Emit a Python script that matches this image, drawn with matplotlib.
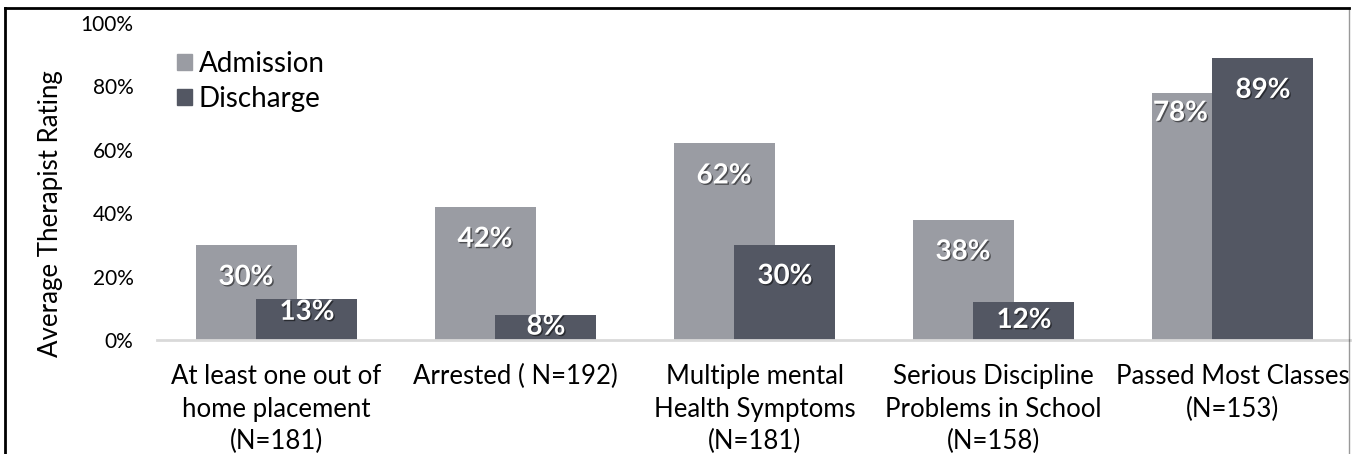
import numpy as np
import matplotlib.pyplot as plt
import matplotlib.patheffects as pe
from matplotlib.lines import Line2D
from matplotlib.patches import Patch

plt.rcParams['font.family'] = ['Lato', 'DejaVu Sans']

categories = [
    "At least one out of\nhome placement\n(N=181)",
    "Arrested ( N=192)",
    "Multiple mental\nHealth Symptoms\n(N=181)",
    "Serious Discipline\nProblems in School\n(N=158)",
    "Passed Most Classes\n(N=153)",
]
admission = [30, 42, 62, 38, 78]
discharge = [13, 8, 30, 12, 89]

adm_color = "#9a9ca3"
dis_color = "#535763"

W, H = 1352, 454
fig = plt.figure(figsize=(W / 100, H / 100), dpi=100)
ax = fig.add_axes([157 / W, (H - 340) / H, (W - 157) / W, (340 - 23) / H])

x = np.arange(len(categories))
bw = 0.4226
shift = 0.1276

ax.bar(x - shift, admission, bw, color=adm_color, zorder=2)
ax.bar(x + shift, discharge, bw, color=dis_color, zorder=3)

ax.set_xlim(-0.5, len(categories) - 0.5)
ax.set_ylim(0, 100)
ax.set_yticks(range(0, 101, 20))
ax.set_yticklabels([f"{v}%" for v in range(0, 101, 20)], fontsize=15)
ax.set_xticks(x)
ax.set_xticklabels(categories, fontsize=18.5, va="top", linespacing=1.36)
ax.tick_params(axis="y", length=0, pad=17)
ax.tick_params(axis="x", length=0, pad=17.5)
for side in ["top", "right", "left"]:
    ax.spines[side].set_visible(False)
ax.spines["bottom"].set_color("#d9d9d9")
ax.spines["bottom"].set_linewidth(2)
ax.spines["bottom"].set_zorder(4)

ax.set_ylabel("Average Therapist Rating", fontsize=18.6)
ax.yaxis.set_label_coords(-0.0787, 0.40)

# data labels, a few dragged closer to the top of short bars
shadow = [pe.withSimplePatchShadow(offset=(1, -1), shadow_rgbFace="black", alpha=0.5)]
px = 100 / 317.0
adm_drop = [32, 32, 32, 32, 20]
dis_drop = [13, 12, 31, 18, 32]
adm_dx = [0, 0, 0, 0, -0.09]
for i in range(len(categories)):
    ax.text(x[i] - shift + adm_dx[i], admission[i] - adm_drop[i] * px, f"{admission[i]}%",
            ha="center", va="center", color="white", fontsize=20, fontweight="bold",
            path_effects=shadow, zorder=5)
    ax.text(x[i] + shift, discharge[i] - dis_drop[i] * px, f"{discharge[i]}%",
            ha="center", va="center", color="white", fontsize=20, fontweight="bold",
            path_effects=shadow, zorder=5)

handles = [Patch(color=adm_color), Patch(color=dis_color)]
ax.legend(handles, ["Admission", "Discharge"], loc="upper left",
          bbox_to_anchor=(0.0165, 0.912), frameon=False, fontsize=20,
          handlelength=0.55, handleheight=0.55, handletextpad=0.25,
          labelspacing=0.32, borderaxespad=0, borderpad=0)

# outer frame of the chart area
fig.add_artist(Line2D([5 / W, 5 / W], [0, (H - 8) / H], color="black", lw=2))
fig.add_artist(Line2D([5 / W, 1349 / W], [(H - 8) / H, (H - 8) / H], color="black", lw=2))
fig.add_artist(Line2D([1349 / W, 1349 / W], [0, (H - 8) / H], color="black", lw=1, alpha=0.4))

fig.savefig("out.png", dpi=100)
